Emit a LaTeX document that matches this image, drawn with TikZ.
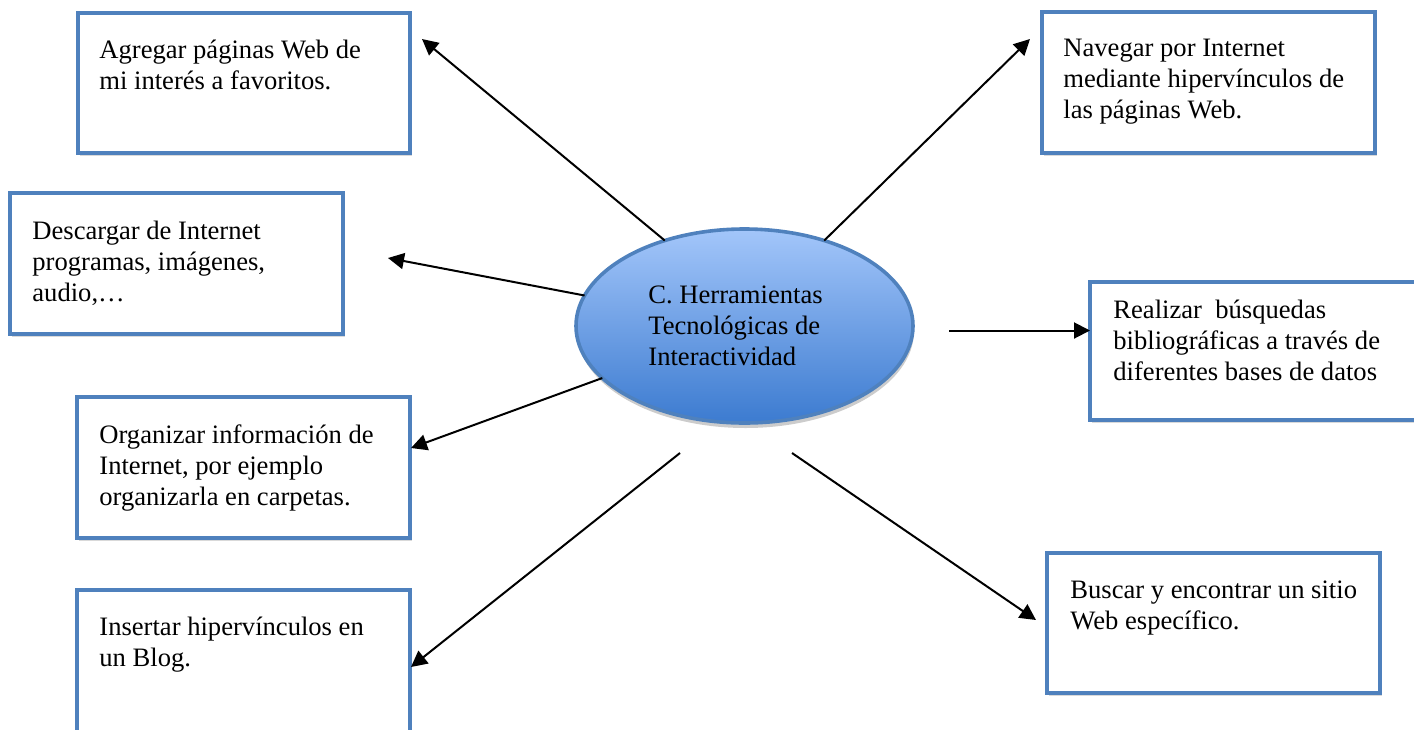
\documentclass[tikz,border=0pt]{standalone}
\usepackage{fontspec}
\setmainfont{Liberation Serif}
\usetikzlibrary{arrows.meta,shadows,shapes.geometric}
\definecolor{boxblue}{HTML}{4F81BD}
\definecolor{elltop}{HTML}{A3C6FA}
\definecolor{ellbot}{HTML}{3C7BD0}
\begin{document}
\begin{tikzpicture}[x=0.5pt,y=-0.5pt,
  box/.style={draw=boxblue, line width=1.8pt, fill=white, rectangle, outer sep=0pt, inner sep=0pt, anchor=north west,
    drop shadow={shadow xshift=1pt, shadow yshift=-1.5pt, opacity=0.15, fill=black}},
  txt/.style={anchor=base west, inner sep=0pt, font=\fontsize{13.3}{15.5}\selectfont},
  arr/.style={-{Triangle[length=8pt,width=8pt]}, line width=1pt, black},
  hub/.style={ellipse, draw=boxblue, line width=1.8pt, top color=elltop, bottom color=ellbot, inner sep=0pt, outer sep=0pt,
    drop shadow={shadow xshift=0.5pt, shadow yshift=-2.5pt, opacity=0.2, fill=black}}
]
\useasboundingbox (0,0) rectangle (1414,729);
\clip (0,0) rectangle (1414,729);

% boxes
\node[box, minimum width=166pt, minimum height=70pt] (b1) at (78,13) {};
\node[box, minimum width=166.5pt, minimum height=70.5pt] (b2) at (10,193) {};
\node[box, minimum width=166.5pt, minimum height=70.5pt] (b3) at (77,397) {};
\node[box, minimum width=166.5pt, minimum height=80pt] (b4) at (77,590) {};
\node[box, minimum width=166.5pt, minimum height=70.5pt] (b5) at (1042,12) {};
\node[box, minimum width=170pt, minimum height=69pt] (b6) at (1090,282) {};
\node[box, minimum width=166.5pt, minimum height=70pt] (b7) at (1047,553) {};

% texts
\node[txt] (t1) at (99,58) {\parbox[t]{200pt}{Agregar páginas Web de\\mi interés a favoritos.}};
\node[txt] (t2) at (32,239) {\parbox[t]{200pt}{Descargar de Internet\\programas, imágenes,\\audio,…}};
\node[txt] (t3) at (99,443) {\parbox[t]{200pt}{Organizar información de\\Internet, por ejemplo\\organizarla en carpetas.}};
\node[txt] (t4) at (99,635) {\parbox[t]{200pt}{Insertar hipervínculos en\\un Blog.}};
\node[txt] (t5) at (1063,56) {\parbox[t]{200pt}{Navegar por Internet\\mediante hipervínculos de\\las páginas Web.}};
\node[txt] (t6) at (1113,318) {\parbox[t]{200pt}{Realizar~ búsquedas\\bibliográficas a través de\\diferentes bases de datos}};
\node[txt] (t7) at (1070,598) {\parbox[t]{200pt}{Buscar y encontrar un sitio\\Web específico.}};

% central ellipse
\node[hub, minimum width=168.5pt, minimum height=97pt] (c) at (744.5,326) {};
\node[txt] (ct) at (648,303) {\parbox[t]{200pt}{C. Herramientas\\Tecnológicas de\\Interactividad}};

% free ends
\coordinate (e1) at (422,39);
\coordinate (e2) at (1030,39);
\coordinate (e3) at (388,258);
\coordinate (s4) at (949,330.5);
\coordinate (e5) at (411,448);
\coordinate (s6) at (680,453);
\coordinate (e6) at (411,667);
\coordinate (s7) at (792,453);
\coordinate (e7) at (1036,620);

% connectors
\draw[arr] (c.133.8) -- (e1);
\draw[arr] (c.47.6) -- (e2);
\draw[arr] (c) -- (e3);
\draw[arr] (s4) -- (s4 -| b6.west);
\draw[arr] (c) -- (e5);
\draw[arr] (s6) -- (e6);
\draw[arr] (s7) -- (e7);
\end{tikzpicture}
\end{document}
